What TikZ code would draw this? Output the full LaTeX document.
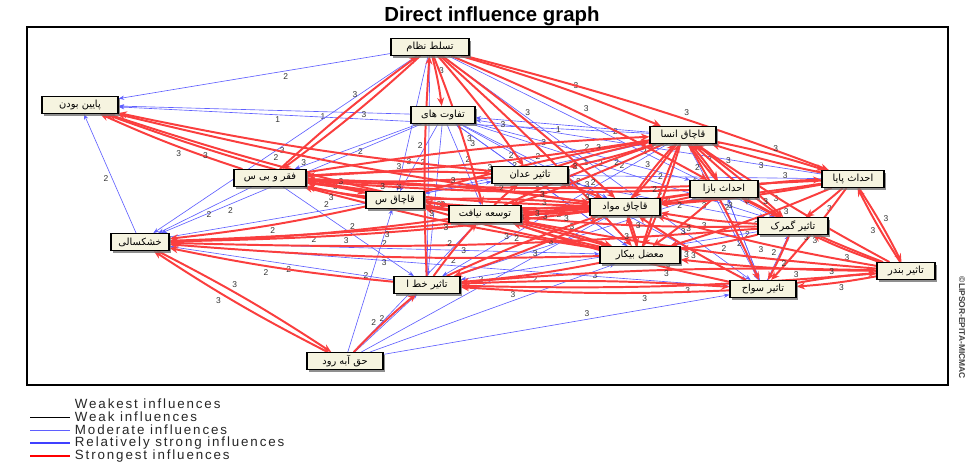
\documentclass[tikz,border=0pt]{standalone}
\usepackage{fontspec}
\setmainfont{Liberation Sans}
\newfontfamily\persianfont[Script=Arabic]{DejaVu Sans}
\newfontfamily\legendfont[LetterSpace=14]{Liberation Sans}
\TeXXeTstate=1
\usepackage{tikz}
\usetikzlibrary{shadows,arrows.meta}
\definecolor{strongred}{RGB}{250,62,62}
\definecolor{modblue}{RGB}{95,95,255}
\definecolor{boxfill}{RGB}{246,244,224}
\pgfdeclarelayer{background}
\pgfsetlayers{background,main}
\newcommand{\fa}[1]{\beginR#1\endR}
\tikzstyle{strongest} = [strongred, line width=1.4pt, -{Stealth[length=6pt,width=5pt]}, bend left=3]
\tikzstyle{moderate} = [modblue, line width=0.45pt, -{Stealth[length=4pt,width=3pt]}]
\tikzstyle{lbl} = [font=\fontsize{6}{7}\selectfont, text=black!80, inner sep=1pt, auto]

\begin{document}
\begin{tikzpicture}[x=0.025cm, y=-0.025cm,
  factor/.style={draw, thick, fill=boxfill, font=\persianfont\fontsize{7}{8}\selectfont, minimum height=0.42cm, inner sep=1pt, drop shadow={shadow xshift=1.6pt, shadow yshift=-1.6pt, fill=black!55, opacity=0.8}}]

\useasboundingbox (0,0) rectangle (978,473);

% TITLE
\node[font=\bfseries\fontsize{14.5}{16}\selectfont] (title) at (492,16) {Direct influence graph};

% FACTORS
\node[factor, minimum width=1.95cm] (nezam) at (430,47) {\fa{تسلط نظام}};
\node[factor, minimum width=1.9cm] (payin) at (80,105) {\fa{پایین بودن}};
\node[factor, minimum width=1.6cm] (tafavot) at (443,115) {\fa{تفاوت های}};
\node[factor, minimum width=1.8cm] (faghr) at (270,178) {\fa{فقر و بی س}};
\node[factor, minimum width=1.45cm] (ghachaghs) at (395,200) {\fa{قاچاق س}};
\node[factor, minimum width=1.9cm] (adan) at (530,175) {\fa{تاثیر عدان}};
\node[factor, minimum width=1.8cm] (tosee) at (485,214) {\fa{توسعه نیافت}};
\node[factor, minimum width=1.75cm] (mavad) at (625,207) {\fa{قاچاق مواد}};
\node[factor, minimum width=1.65cm] (ensan) at (683,135) {\fa{قاچاق انسا}};
\node[factor, minimum width=1.7cm] (bazar) at (724,189) {\fa{احداث بازا}};
\node[factor, minimum width=1.55cm] (payane) at (853,179) {\fa{احداث پایا}};
\node[factor, minimum width=1.75cm] (gomrok) at (793,226) {\fa{تاثیر گمرک}};
\node[factor, minimum width=2cm] (bikar) at (640,255) {\fa{معضل بیکار}};
\node[factor, minimum width=1.45cm] (bandar) at (906,271) {\fa{تاثیر بندر}};
\node[factor, minimum width=1.65cm] (savahel) at (763,289) {\fa{تاثیر سواح}};
\node[factor, minimum width=1.65cm] (khat) at (427,285) {\fa{تاثیر خط ا}};
\node[factor, minimum width=1.45cm] (khoshk) at (140,242) {\fa{خشکسالی}};
\node[factor, minimum width=1.9cm] (haghabe) at (345,361) {\fa{حق آبه رود}};

\begin{pgfonlayer}{background}
\draw[black, line width=0.8pt] (27,27) rectangle (948,385);

% moderate influences
\foreach \a/\b/\l/\p in {nezam/payin/2/.4, khoshk/payin/2/.5, tafavot/payin/1/.3, ensan/payin/1/.7,
  tafavot/faghr/2/.5, tafavot/khoshk/2/.75, tafavot/ghachaghs/2/.5, tafavot/tosee/2/.5, tafavot/mavad/2/.5,
  tafavot/bikar/2/.3, tafavot/savahel/2/.4, tafavot/khat/3/.5, tafavot/gomrok/2/.5, tafavot/bazar/2/.5,
  nezam/khat/3/.3, nezam/savahel/2/.5, nezam/gomrok/2/.5, nezam/ghachaghs/3/.75, nezam/khoshk/2/.55,
  haghabe/ghachaghs/2/.5, haghabe/khat/2/.5, haghabe/bikar/3/.6, haghabe/mavad/2/.5, haghabe/savahel/3/.6, haghabe/tosee/2/.45,
  khoshk/adan/2/.5, faghr/khoshk/2/.5, faghr/khat/2/.5, khat/khoshk/2/.45, khoshk/savahel/2/.5, khoshk/bikar/2/.5,
  ensan/khat/2/.5, ensan/savahel/2/.5, ensan/ghachaghs/1/.3, ensan/tafavot/1/.5, bazar/savahel/2/.5, bazar/khat/2/.5,
  gomrok/khat/2/.5, payane/adan/1/.5, gomrok/adan/2/.5, payane/tafavot/2/.5, bikar/tafavot/2/.5,
  savahel/gomrok/2/.5, savahel/bazar/2/.5}
  \draw[moderate] (\a) -- node[lbl, pos=\p] {\l} (\b);

% strongest influences
\foreach \a/\b/\l/\p in {nezam/tafavot/3/.4, nezam/faghr/3/.45, nezam/adan/3/.7, nezam/tosee/3/.6, nezam/ensan/3/.55,
  nezam/bazar/3/.5, nezam/mavad/3/.45, nezam/payane/3/.6, nezam/bikar/3/.5, faghr/nezam/3/.6, khat/nezam/2/.6, haghabe/khat/2/.4,
  faghr/payin/3/.4, tosee/payin/3/.3, adan/payin/3/.55, mavad/payin/3/.6, ghachaghs/payin/3/.6,
  tosee/khoshk/2/.5, mavad/khoshk/3/.6, bikar/khoshk/3/.5, khat/khoshk/2/.55, bazar/khoshk/3/.6, ghachaghs/khoshk/2/.5,
  gomrok/khoshk/3/.5, khoshk/haghabe/3/.4, haghabe/khoshk/3/.6,
  ensan/payane/3/.5, payane/ensan/3/.5, ensan/bazar/3/.5, bazar/ensan/2/.5, ensan/gomrok/3/.3, ensan/mavad/2/.5,
  ensan/tosee/2/.5, ensan/faghr/2/.4, ensan/adan/2/.5, ensan/bikar/3/.5, ensan/savahel/3/.5,
  payane/bandar/3/.5, bandar/payane/3/.5, payane/gomrok/3/.5, payane/bikar/3/.5, payane/mavad/3/.3, payane/tosee/3/.4,
  payane/savahel/3/.5, payane/faghr/3/.3,
  bandar/gomrok/3/.4, bandar/bazar/3/.5, bandar/bikar/3/.4, bandar/savahel/3/.5, bandar/mavad/3/.5, bandar/tosee/3/.5,
  bandar/khat/3/.45, bandar/ensan/3/.5,
  gomrok/bikar/2/.5, gomrok/mavad/3/.5, gomrok/savahel/2/.5, gomrok/tosee/3/.3, gomrok/ensan/3/.3,
  bazar/bikar/3/.5, bazar/mavad/2/.5, bazar/tosee/3/.9, bazar/faghr/3/.25, bazar/gomrok/3/.5, bazar/payane/3/.5,
  mavad/faghr/3/.5, mavad/tosee/3/.4, mavad/ghachaghs/3/.3, mavad/ensan/3/.5, mavad/khat/3/.5, mavad/bikar/3/.5,
  bikar/khat/2/.5, bikar/faghr/3/.5, bikar/tosee/3/.5, bikar/ghachaghs/3/.5, bikar/ensan/2/.5, bikar/mavad/3/.5,
  tosee/faghr/3/.5, tosee/ghachaghs/3/.5, tosee/adan/2/.5, tosee/ensan/3/.5, tosee/mavad/3/.4, tosee/bikar/3/.5,
  adan/faghr/3/.5, adan/ensan/3/.5, adan/mavad/3/.5,
  khat/tosee/2/.5, khat/savahel/3/.5, khat/bandar/3/.5, khat/mavad/2/.5,
  savahel/khat/3/.3, savahel/bandar/3/.5, savahel/tosee/3/.25, savahel/mavad/3/.5,
  faghr/ghachaghs/3/.5, faghr/mavad/3/.5, faghr/ensan/3/.5, faghr/adan/3/.5, faghr/tosee/3/.5,
  ghachaghs/faghr/3/.5, ghachaghs/bikar/3/.5, ghachaghs/ensan/3/.3, ghachaghs/mavad/3/.7}
  \draw[strongest] (\a) to node[lbl, pos=\p] {\l} (\b);
\end{pgfonlayer}

% LEGEND
\begin{scope}[font=\legendfont\fontsize{9.5}{10}\selectfont, text=black!85]
  \node[anchor=west] (weakest) at (70,404) {Weakest influences};
  \node[anchor=west] (weak) at (70,417) {Weak influences};
  \node[anchor=west] (moder) at (70,430) {Moderate influences};
  \node[anchor=west] (relstrong) at (70,443) {Relatively strong influences};
  \node[anchor=west] (strong) at (70,456) {Strongest influences};
\end{scope}
\coordinate (lg) at (30,0);
\draw[black, line width=0.5pt] (lg |- weak) -- (weak.west);
\draw[modblue, line width=0.5pt] (lg |- moder) -- (moder.west);
\draw[blue!75!white, line width=1.4pt] (lg |- relstrong) -- (relstrong.west);
\draw[red, line width=0.9pt] (lg |- strong) -- (strong.west);

% COPYRIGHT
\node[rotate=-90, font=\bfseries\fontsize{6}{7}\selectfont, text=black!75] (copy) at (962,328) {\copyright LIPSOR-EPITA-MICMAC};

\end{tikzpicture}
\end{document}
